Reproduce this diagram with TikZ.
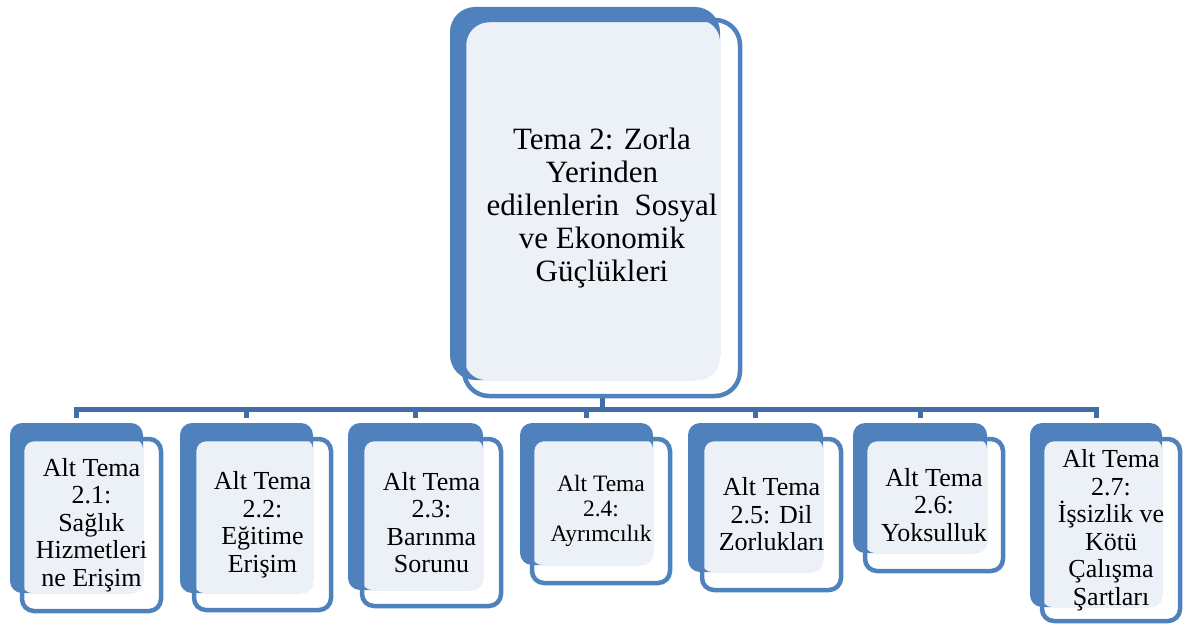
\documentclass[tikz,border=0pt]{standalone}
\usepackage{fontspec}
\setmainfont{Liberation Serif}
\definecolor{bl}{HTML}{4F81BD}
\definecolor{pale}{HTML}{ECF1F8}
\definecolor{connc}{HTML}{426EA8}
\tikzset{
  backbox/.style={fill=bl, draw=none, rounded corners=#1, inner sep=0pt, outer sep=0pt},
  backbox/.default=12pt,
  frontbox/.style={draw=bl, line width=4.5pt, rounded corners=#1, inner sep=0pt, outer sep=0pt, align=center, text=black},
  frontbox/.default=12pt,
  palefill/.style={fill=pale, rounded corners=#1},
  palefill/.default=10pt,
  connline/.style={draw=connc, line width=5pt},
  childfont/.style={font=\fontsize{26}{27.5}\selectfont},
  smallfont/.style={font=\fontsize{23.5}{25}\selectfont}
}
\begin{document}
\begin{tikzpicture}[x=1pt,y=-1pt]
\useasboundingbox (0,0) rectangle (1188,626);
% back boxes
\node[backbox=25pt, minimum width=270pt, minimum height=373pt] (tb) at (585,193.5) {};
\node[backbox, minimum width=133pt, minimum height=170pt] (b1) at (76.5,508) {};
\node[backbox, minimum width=133pt, minimum height=170pt] (b2) at (246.5,508) {};
\node[backbox, minimum width=135pt, minimum height=167pt] (b3) at (415.5,506.5) {};
\node[backbox, minimum width=133pt, minimum height=142pt] (b4) at (586.5,494) {};
\node[backbox, minimum width=135pt, minimum height=149pt] (b5) at (755.5,497.5) {};
\node[backbox, minimum width=134pt, minimum height=130pt] (b6) at (920,488) {};
\node[backbox, minimum width=132pt, minimum height=184pt] (b7) at (1096,515) {};
% front box centres
\path
  (602,208) coordinate (tfc)
  (91.5,525) coordinate (f1c)
  (262.5,524.5) coordinate (f2c)
  (431.5,522.5) coordinate (f3c)
  (601,511) coordinate (f4c)
  (771.5,514.5) coordinate (f5c)
  (934,505) coordinate (f6c)
  (1111,530) coordinate (f7c);
\node[minimum width=276pt, minimum height=376pt, inner sep=0pt, outer sep=0pt] (tfs) at (tfc) {};
\node[minimum width=139pt, minimum height=172pt, inner sep=0pt, outer sep=0pt] (f1s) at (f1c) {};
\node[minimum width=137pt, minimum height=171pt, inner sep=0pt, outer sep=0pt] (f2s) at (f2c) {};
\node[minimum width=139pt, minimum height=167pt, inner sep=0pt, outer sep=0pt] (f3s) at (f3c) {};
\node[minimum width=138pt, minimum height=144pt, inner sep=0pt, outer sep=0pt] (f4s) at (f4c) {};
\node[minimum width=139pt, minimum height=151pt, inner sep=0pt, outer sep=0pt] (f5s) at (f5c) {};
\node[minimum width=138pt, minimum height=132pt, inner sep=0pt, outer sep=0pt] (f6s) at (f6c) {};
\node[minimum width=138pt, minimum height=182pt, inner sep=0pt, outer sep=0pt] (f7s) at (f7c) {};
% pale fills
\fill[palefill=22pt] (tfs.north west) rectangle (tb.south east);
\foreach \i in {1,...,7}{
  \fill[palefill] (f\i s.north west) rectangle (b\i.south east);
}
% connectors
\foreach \i in {1,...,7}{
  \draw[connline] (tfs.south) |- ([yshift=14pt]b\i.north) -- ([yshift=5pt]b\i.north);
}
% front boxes
\node[frontbox=25pt, minimum width=276pt, minimum height=376pt, font=\fontsize{31}{33}\selectfont] (tf) at (tfc)
  {Tema 2: Zorla\\Yerinden\\edilenlerin\ \ Sosyal\\ve Ekonomik\\Güçlükleri};
\node[frontbox, childfont, minimum width=139pt, minimum height=172pt] (f1) at (f1c)
  {Alt Tema\\2.1:\\Sağlık\\Hizmetleri\\ne Erişim};
\node[frontbox, childfont, minimum width=137pt, minimum height=171pt] (f2) at (f2c)
  {Alt Tema\\2.2:\\Eğitime\\Erişim};
\node[frontbox, childfont, minimum width=139pt, minimum height=167pt] (f3) at (f3c)
  {Alt Tema\\2.3:\\Barınma\\Sorunu};
\node[frontbox, smallfont, minimum width=138pt, minimum height=144pt] (f4) at (f4c)
  {Alt Tema\\2.4:\\Ayrımcılık};
\node[frontbox, childfont, minimum width=139pt, minimum height=151pt] (f5) at (f5c)
  {Alt Tema\\2.5: Dil\\Zorlukları};
\node[frontbox, childfont, minimum width=138pt, minimum height=132pt] (f6) at (f6c)
  {Alt Tema\\2.6:\\Yoksulluk};
\node[frontbox, childfont, minimum width=138pt, minimum height=182pt] (f7) at (f7c)
  {Alt Tema\\2.7:\\İşsizlik ve\\Kötü\\Çalışma\\Şartları};
\end{tikzpicture}
\end{document}
